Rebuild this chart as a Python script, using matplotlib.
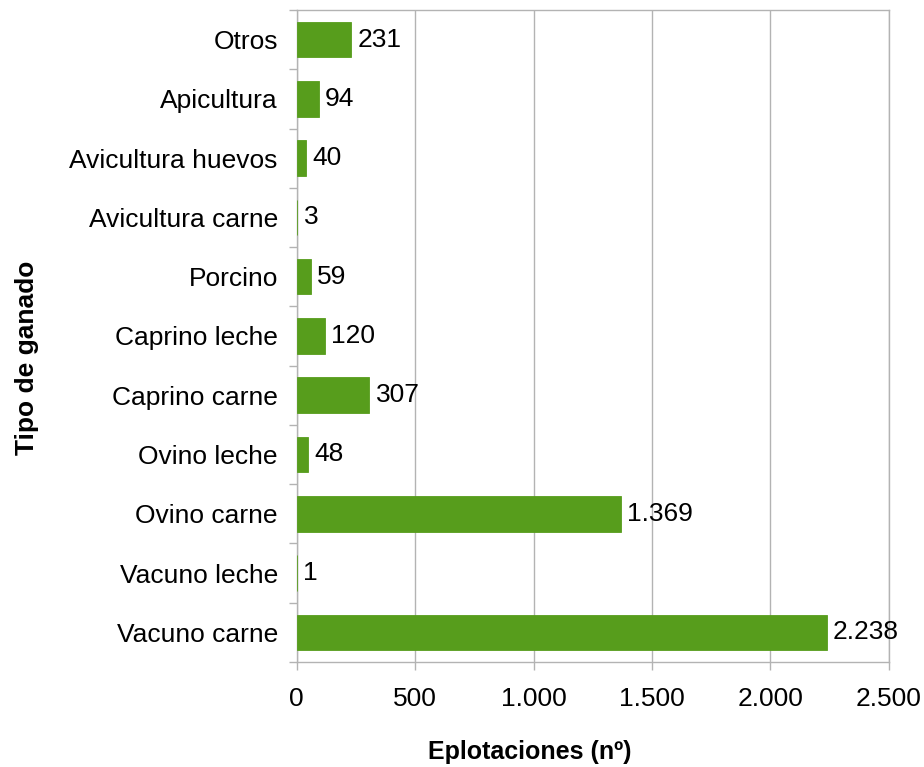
import matplotlib.pyplot as plt
from matplotlib.ticker import FuncFormatter, FixedLocator
import numpy as np

plt.rcParams['font.family'] = ['Liberation Sans', 'DejaVu Sans']

categories = ["Vacuno carne", "Vacuno leche", "Ovino carne", "Ovino leche", "Caprino carne",
              "Caprino leche", "Porcino", "Avicultura carne", "Avicultura huevos", "Apicultura", "Otros"]
values = [2238, 1, 1369, 48, 307, 120, 59, 3, 40, 94, 231]
x_ticks = [0, 500, 1000, 1500, 2000, 2500]

bar_color = "#579d1c"
grid_color = "#b3b3b3"
fs = 19


def miles(v, pos=None):
    return f"{int(v):,}".replace(",", ".")


fig = plt.figure(figsize=(9.24, 7.67), dpi=100)
ax = fig.add_axes([0.321, 0.137, 0.641, 0.85])

y = np.arange(len(categories))
bars = ax.barh(y, values, height=0.6, color=bar_color, edgecolor=bar_color,
               linewidth=0.6, zorder=3)

for b, v in zip(bars, values):
    ax.annotate(miles(v), (b.get_width(), b.get_y() + b.get_height() / 2),
                xytext=(4.5, 0), textcoords="offset points", va="center", ha="left", fontsize=fs)

ax.set_xlim(0, 2500)
ax.set_ylim(-0.5, len(categories) - 0.5)
ax.set_xticks(x_ticks)
ax.xaxis.set_major_formatter(FuncFormatter(miles))
ax.set_yticks(y)
ax.set_yticklabels(categories)
ax.yaxis.set_minor_locator(FixedLocator(np.arange(-0.5, len(categories), 1)))

ax.tick_params(axis="y", which="major", length=0, pad=13.5, labelsize=fs)
ax.tick_params(axis="y", which="minor", length=6, color=grid_color, width=1)
ax.tick_params(axis="x", which="major", length=6, color=grid_color, width=1, pad=12, labelsize=fs)

ax.grid(axis="x", color=grid_color, linewidth=1, zorder=0)
for s in ax.spines.values():
    s.set_color(grid_color)
    s.set_linewidth(1)

fig.text(530 / 924, 1 - 752 / 767, "Eplotaciones (nº)", fontsize=18, fontweight="bold",
         ha="center", va="center")
fig.text(27 / 924, 1 - 358 / 767, "Tipo de ganado", fontsize=fs, fontweight="bold",
         ha="center", va="center", rotation=90)

fig.savefig("out.png", dpi=100)
